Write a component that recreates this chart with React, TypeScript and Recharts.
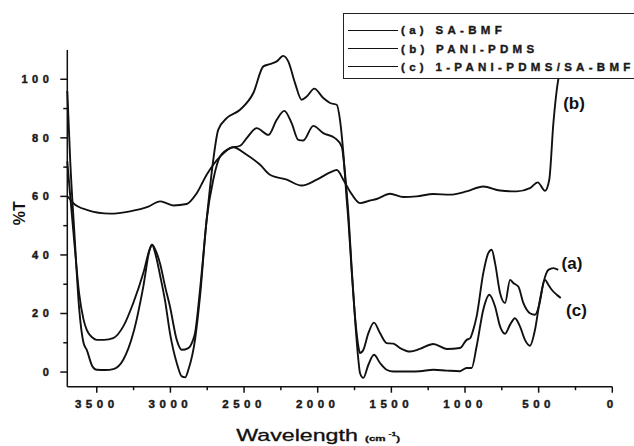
import React from "react";
import { LineChart, Line, XAxis, YAxis, Legend, ReferenceDot } from "recharts";

const FONT = "'Liberation Sans', Arial, sans-serif";

// (a) SA-BMF
const aWave = [
  3700, 3680, 3650, 3620, 3590, 3568, 3530, 3500, 3450, 3388, 3320, 3252, 3184, 3140, 3125, 3100,
  3070, 3035, 3003, 2957, 2923, 2878, 2850, 2833, 2799, 2754, 2709, 2675, 2618, 2527, 2437, 2369,
  2324, 2278, 2234, 2200, 2154, 2109, 2075, 2023, 1962, 1916, 1871, 1849, 1826, 1803, 1792, 1770,
  1745, 1724, 1713, 1690, 1656, 1618, 1577, 1532, 1487, 1441, 1373, 1306, 1215, 1124, 1034, 989,
  966, 944, 921, 876, 842, 819, 796, 762, 728, 694, 672, 638, 604, 559, 525, 496, 468, 434, 400, 367,
];
const aT = [
  72, 60, 43, 27, 18, 14.4, 11.8, 11, 11, 11.6, 15.6, 23.6, 33.8, 42, 43.5, 41.5,
  37, 29, 22.4, 11, 7.6, 8.2, 10.5, 13.3, 28.1, 52, 72.5, 82.8, 86.7, 89.6, 95.3, 104.4,
  105.2, 106.1, 108, 106.1, 98.7, 93, 94.1, 96.8, 93.6, 91.9, 91.3, 86.2, 74.8, 58.8, 52, 35,
  18, 8.8, 6.5, 7.6, 13.3, 16.9, 13.3, 9.9, 9.7, 8.2, 7, 7.9, 9.6, 7.9, 8.2, 11,
  11.5, 14.4, 19, 33.8, 40.6, 41.8, 37.2, 27, 23.6, 31.5, 30.4, 29.2, 23.6, 20.1, 19.6, 23, 30.4, 34.9, 35.5, 34.9,
];

// (b) PANI-PDMS
const bWave = [
  3700, 3680, 3659, 3568, 3410, 3274, 3150, 3070, 3020, 2980, 2890, 2821, 2754, 2663, 2573, 2482,
  2391, 2324, 2210, 2109, 2007, 1916, 1870, 1826, 1781, 1713, 1650, 1600, 1509, 1419, 1328, 1215,
  1102, 989, 876, 762, 649, 559, 506, 457, 428, 400, 367, 340,
];
const bT = [
  60, 59, 57.7, 55.4, 54.1, 54.9, 56.5, 58.3, 57.5, 56.9, 57.4, 61.1, 67.4, 73.6, 76.8, 74.2,
  70.8, 67.4, 65.7, 63.7, 65.7, 68.2, 69, 65.7, 61.7, 57.7, 58.5, 59.1, 60.9, 59.8, 60, 60.8,
  60.6, 61.7, 63.4, 62, 61.7, 62.8, 64.8, 61.9, 65.7, 85, 99.8, 104,
];

// (c) 1-PANI-PDMS/SA-BMF
const cWave = [
  3700, 3680, 3650, 3620, 3590, 3568, 3530, 3500, 3440, 3388, 3320, 3252, 3184, 3140, 3125, 3100,
  3070, 3035, 3003, 2957, 2923, 2900, 2878, 2833, 2799, 2754, 2709, 2663, 2595, 2527, 2482, 2414,
  2335, 2278, 2227, 2177, 2132, 2098, 2030, 1962, 1883, 1837, 1815, 1792, 1770, 1745, 1724, 1713,
  1690, 1656, 1618, 1577, 1532, 1487, 1441, 1373, 1306, 1215, 1124, 1034, 989, 955, 921, 876,
  835, 796, 762, 728, 694, 661, 627, 593, 559, 525, 491, 457, 434, 411, 377, 350,
];
const cT = [
  96, 72, 46, 22, 10, 7.6, 2, 0.8, 0.7, 1, 4.2, 13.3, 29.2, 42, 43.5, 40,
  33, 24, 13.3, 3.1, -1.5, -1.8, 0.8, 11, 25.8, 52, 65.7, 73.6, 76.5, 77.3, 79.9, 83.3,
  81, 86.2, 89.2, 85, 79.3, 79.1, 84.1, 81.6, 79.9, 77, 68, 54.3, 36, 17, 4.2, -0.3,
  -2, 2.5, 5.9, 3.1, 0.8, 0.2, 0.2, 0.2, 0.3, 0.8, 0.5, 0.3, 1.4, 1.4, 8.8, 21.3,
  26.4, 22.4, 15.6, 13.1, 16.2, 18.4, 15.6, 11, 9, 14.4, 24.7, 31.5, 29.8, 28.1, 26.4, 25.3,
];

const seriesNames = ["(a) SA-BMF", "(b) PANI-PDMS", "(c) 1-PANI-PDMS/SA-BMF"];

// curve tags placed beside the right-hand ends
const tagText = ["(a)", "(b)", "(c)"];
const tagWave = [274, 260, 243];
const tagT = [37.3, 92, 21.1];

const xTicks = [3500, 3250, 3000, 2750, 2500, 2250, 2000, 1750, 1500, 1250, 1000, 750, 500, 250, 0];
const yTicks = [0, 10, 20, 30, 40, 50, 60, 70, 80, 90, 100];

const toPoints = (w: number[], t: number[]) => w.map((x, i) => ({ x, t: t[i] }));

const series = [
  { name: seriesNames[0], data: toPoints(aWave, aT) },
  { name: seriesNames[1], data: toPoints(bWave, bT) },
  { name: seriesNames[2], data: toPoints(cWave, cT) },
];

const XTick = ({ x, y, payload }: any) => {
  const major = payload.value % 500 === 0;
  return (
    <g>
      <line x1={x} x2={x} y1={y} y2={y + (major ? 6 : 3.5)} stroke="#111" strokeWidth={1.5} />
      {major && (
        <text
          x={x}
          y={y + 21.5}
          textAnchor="middle"
          fontSize={11.5}
          fontWeight="bold"
          letterSpacing={4.5}
          fill="#1a1a1a"
          stroke="#1a1a1a"
          strokeWidth={0.45}
          fontFamily={FONT}
        >
          {payload.value}
        </text>
      )}
    </g>
  );
};

const YTick = ({ x, y, payload }: any) => {
  const major = payload.value % 20 === 0;
  return (
    <g>
      <line x1={x - (major ? 7 : 4)} x2={x} y1={y} y2={y} stroke="#111" strokeWidth={1.5} />
      {major && (
        <text
          x={x - 14}
          y={y + 3.8}
          textAnchor="end"
          fontSize={11}
          fontWeight="bold"
          letterSpacing={4.5}
          fill="#1a1a1a"
          stroke="#1a1a1a"
          strokeWidth={0.45}
          fontFamily={FONT}
        >
          {payload.value}
        </text>
      )}
    </g>
  );
};

const XTitle = ({ viewBox }: any) => {
  const { x, y, width } = viewBox;
  return (
    <text
      transform={`translate(${x + width * 0.31},${y + 54}) scale(1.45,1)`}
      fill="#111"
      stroke="#111"
      strokeWidth={0.3}
      fontFamily={FONT}
    >
      <tspan fontSize={16}>Wavelength</tspan>
      <tspan fontSize={8} fontWeight="bold" dx={5}>(cm</tspan>
      <tspan fontSize={6} fontWeight="bold" dx={2} dy={-5}>-1</tspan>
      <tspan fontSize={8} fontWeight="bold" dy={5}>)</tspan>
    </text>
  );
};

const YTitle = ({ viewBox }: any) => {
  const cx = viewBox.x + 11.7;
  const cy = viewBox.y + viewBox.height * 0.485;
  return (
    <text
      transform={`translate(${cx},${cy}) rotate(-90)`}
      textAnchor="middle"
      dominantBaseline="central"
      fontSize={16}
      fontWeight="bold"
      fill="#111"
      fontFamily={FONT}
    >
      %T
    </text>
  );
};

const LegendBox = ({ payload }: any) => (
  <div
    style={{
      border: "1.2px solid #222",
      background: "#fff",
      width: 300,
      height: 66,
      boxSizing: "border-box",
      paddingTop: 7,
      paddingLeft: 4,
    }}
  >
    {(payload ?? []).map((e: any) => (
      <div key={e.value} style={{ display: "flex", alignItems: "center", height: 18.4 }}>
        <div style={{ width: 50, borderTop: "1.7px solid #111", marginRight: 3 }} />
        <span
          style={{
            fontFamily: FONT,
            fontWeight: "bold",
            fontSize: 11.5,
            letterSpacing: 4.3,
            color: "#1a1a1a",
            WebkitTextStroke: "0.4px #1a1a1a",
            whiteSpace: "nowrap",
          }}
        >
          {e.value}
        </span>
      </div>
    ))}
  </div>
);

export default function App() {
  return (
    <div style={{ position: "absolute", left: 0, top: 0, width: 634, height: 446, overflow: "hidden", background: "#fff" }}>
      <LineChart width={634} height={446} margin={{ top: 50, right: 21.7, bottom: 29.3, left: 7.3 }}>
        <XAxis
          type="number"
          dataKey="x"
          domain={[0, 3700]}
          reversed
          ticks={xTicks}
          interval={0}
          tick={<XTick />}
          tickLine={false}
          tickSize={0}
          tickMargin={0}
          height={30}
          axisLine={{ stroke: "#111", strokeWidth: 1.5 }}
          allowDuplicatedCategory={false}
          label={{ content: (p: any) => <XTitle {...p} /> }}
        />
        <YAxis
          type="number"
          domain={[-5, 110]}
          allowDataOverflow
          ticks={yTicks}
          interval={0}
          tick={<YTick />}
          tickLine={false}
          tickSize={0}
          tickMargin={0}
          width={60}
          axisLine={{ stroke: "#111", strokeWidth: 1.5 }}
          label={{ content: (p: any) => <YTitle {...p} /> }}
        />
        {series.map((s) => (
          <Line
            key={s.name}
            data={s.data}
            dataKey="t"
            name={s.name}
            type="monotone"
            stroke="#111"
            strokeWidth={1.9}
            dot={false}
            activeDot={false}
            isAnimationActive={false}
          />
        ))}
        {tagText.map((t, i) => (
          <ReferenceDot
            key={t}
            x={tagWave[i]}
            y={tagT[i]}
            r={1}
            fill="none"
            stroke="none"
            label={{
              value: t,
              position: "center",
              fontSize: 17,
              fontWeight: "bold",
              fill: "#111",
              fontFamily: FONT,
            }}
          />
        ))}
        <Legend
          layout="horizontal"
          verticalAlign="middle"
          align="center"
          content={<LegendBox />}
          wrapperStyle={{ left: 343, top: 13, width: 300, height: 66 }}
        />
      </LineChart>
    </div>
  );
}
